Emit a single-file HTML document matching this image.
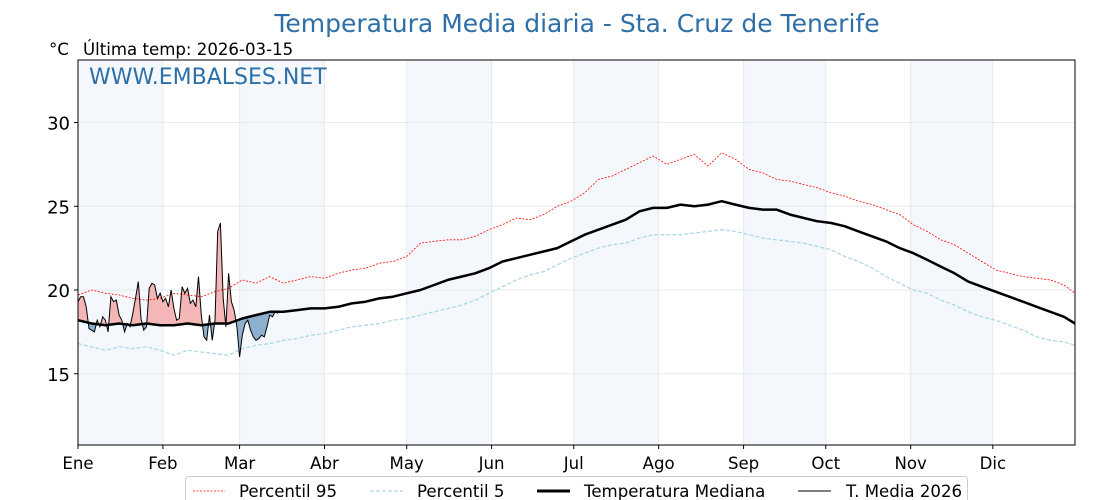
<!DOCTYPE html>
<html><head><meta charset="utf-8"><style>
html,body{margin:0;padding:0;background:#fff;}
svg{display:block;font-family:"DejaVu Sans","Liberation Sans",sans-serif;}
</style></head><body>
<svg id="chart" width="1120" height="500" viewBox="0 0 1120 500" xmlns="http://www.w3.org/2000/svg">
<defs>
<clipPath id="plotclip"><rect x="78" y="60" width="997" height="385"/></clipPath>
<clipPath id="aboveclip"><path id="abovePath" d=""/></clipPath>
<clipPath id="belowclip"><path id="belowPath" d=""/></clipPath>
</defs>
<g id="bands"></g>
<g id="grid"></g>
<g id="series" clip-path="url(#plotclip)"></g>
<rect x="78" y="60" width="997" height="385" fill="none" stroke="#000" stroke-width="1"/>
<g id="axes"></g>
<text x="577" y="32" text-anchor="middle" font-size="25" fill="#2e6fa7">Temperatura Media diaria - Sta. Cruz de Tenerife</text>
<text x="49" y="55" font-size="16.6" fill="#000">°C</text>
<text x="83" y="55" font-size="16.6" fill="#000">Última temp: 2026-03-15</text>
<text x="89" y="84" font-size="22" fill="#2e6fa7">WWW.EMBALSES.NET</text>
<g>
<rect x="185.5" y="476.5" width="782" height="30" rx="3" fill="#fff" stroke="#ccc"/>
<line x1="193" y1="491" x2="225" y2="491" stroke="red" stroke-width="0.8" stroke-dasharray="2,1.5"/>
<text x="239" y="497" font-size="16.6">Percentil 95</text>
<line x1="370" y1="491" x2="403" y2="491" stroke="#add8e6" stroke-width="1.2" stroke-dasharray="4,2"/>
<text x="417" y="497" font-size="16.6">Percentil 5</text>
<line x1="537" y1="491" x2="570" y2="491" stroke="#000" stroke-width="3"/>
<text x="584" y="497" font-size="16.6">Temperatura Mediana</text>
<line x1="798" y1="491" x2="831" y2="491" stroke="#000" stroke-width="1"/>
<text x="846" y="497" font-size="16.6">T. Media 2026</text>
</g>
</svg>
<script>
const monthLabels=["Ene","Feb","Mar","Abr","May","Jun","Jul","Ago","Sep","Oct","Nov","Dic"];
const monthStarts=[0,31,59,90,120,151,181,212,243,273,304,334,365];
const yTicks=[15,20,25,30];
const stepDays=5;
const median=[18.2,18.0,17.9,18.0,17.9,18.0,17.9,17.9,18.0,17.9,18.0,18.0,18.3,18.5,18.7,18.7,18.8,18.9,18.9,19.0,19.2,19.3,19.5,19.6,19.8,20.0,20.3,20.6,20.8,21.0,21.3,21.7,21.9,22.1,22.3,22.5,22.9,23.3,23.6,23.9,24.2,24.7,24.9,24.9,25.1,25.0,25.1,25.3,25.1,24.9,24.8,24.8,24.5,24.3,24.1,24.0,23.8,23.5,23.2,22.9,22.5,22.2,21.8,21.4,21.0,20.5,20.2,19.9,19.6,19.3,19.0,18.7,18.4,18.0];
const p95=[19.7,20.0,19.8,19.7,19.5,19.4,19.5,19.8,19.7,19.6,19.9,20.1,20.6,20.4,20.8,20.4,20.6,20.8,20.7,21.0,21.2,21.3,21.6,21.7,22.0,22.8,22.9,23.0,23.0,23.2,23.6,23.9,24.3,24.2,24.5,25.0,25.3,25.8,26.6,26.8,27.2,27.6,28.0,27.5,27.8,28.1,27.4,28.2,27.8,27.2,27.0,26.6,26.5,26.3,26.1,25.8,25.6,25.3,25.1,24.8,24.5,23.9,23.5,23.0,22.7,22.2,21.7,21.2,21.0,20.8,20.7,20.6,20.3,19.8];
const p5=[16.8,16.6,16.4,16.6,16.5,16.6,16.4,16.1,16.4,16.3,16.2,16.1,16.5,16.7,16.8,17.0,17.1,17.3,17.4,17.6,17.8,17.9,18.0,18.2,18.3,18.5,18.7,18.9,19.1,19.4,19.8,20.2,20.6,20.9,21.1,21.5,21.9,22.2,22.5,22.7,22.8,23.1,23.3,23.3,23.3,23.4,23.5,23.6,23.5,23.3,23.1,23.0,22.9,22.8,22.6,22.4,22.0,21.7,21.3,20.8,20.4,20.0,19.8,19.4,19.1,18.7,18.4,18.2,17.9,17.6,17.2,17.0,16.9,16.7];
const t2026=[19.3,19.6,19.6,19.0,17.7,17.6,17.5,18.2,17.8,18.4,18.2,17.5,19.6,19.3,19.4,18.5,18.2,17.5,18.0,17.8,18.6,19.5,20.5,18.3,17.6,17.8,20.1,20.4,20.3,19.5,19.8,19.3,19.5,19.0,20.0,18.9,18.2,18.3,20.2,19.8,20.1,19.2,19.4,19.0,20.8,18.5,17.2,17.0,18.5,17.0,18.2,23.5,24.0,19.5,17.8,21.0,19.3,18.8,17.8,16.0,17.3,18.0,18.2,17.6,17.2,17.0,17.1,17.3,17.2,17.8,18.5,18.4,18.7,18.6];

const X0=78,X1=1075,Y0=60,Y1=445,XSPAN=364;
function xs(d){return X0+d*(X1-X0)/XSPAN;}
function ys(t){return 290-(t-20)*16.75;}
const NS="http://www.w3.org/2000/svg";
function mk(tag,attrs,parent){const e=document.createElementNS(NS,tag);for(const k in attrs)e.setAttribute(k,attrs[k]);parent.appendChild(e);return e;}
const bandsG=document.getElementById('bands'),gridG=document.getElementById('grid'),seriesG=document.getElementById('series'),axesG=document.getElementById('axes');
for(let m=0;m<12;m+=2){
  const r=mk('rect',{x:xs(monthStarts[m]),y:Y0,width:xs(Math.min(monthStarts[m+1],XSPAN))-xs(monthStarts[m]),height:Y1-Y0,fill:'#f4f8fc'},bandsG);
  
  
}
monthLabels.forEach((lab,i)=>{
  const xx=xs(monthStarts[i]);
  const gl=mk('line',{x1:xx,x2:xx,y1:Y0,y2:Y1,stroke:'#e6e9ee','stroke-width':1},gridG);
  
  
  mk('line',{x1:xx,x2:xx,y1:Y1,y2:Y1+4,stroke:'#000'},axesG);
  const t=mk('text',{x:xx,y:469,'text-anchor':'middle','font-size':16.6},axesG);
  t.textContent=lab;
  
  
});
yTicks.forEach(v=>{
  const yy=ys(v);
  const gl=mk('line',{x1:X0,x2:X1,y1:yy,y2:yy,stroke:'#e6e9ee','stroke-width':1},gridG);
  
  
  mk('line',{x1:X0-4,x2:X0,y1:yy,y2:yy,stroke:'#000'},axesG);
  const t=mk('text',{x:X0-8,y:yy+7,'text-anchor':'end','font-size':18},axesG);
  t.textContent=v;
  
  
});
function stepPts(arr){return arr.map((v,i)=>xs(Math.min(i*stepDays,XSPAN)).toFixed(1)+','+ys(v).toFixed(1)).join(' ');}
function medAt(d){const i=Math.floor(d/stepDays),f=d/stepDays-i;const a=median[i],b=median[Math.min(i+1,median.length-1)];return a+(b-a)*f;}
const nDays=t2026.length;
const upperPts=[],lowerPts=[],medLine=[];
for(let d=0;d<nDays;d++){upperPts.push(xs(d).toFixed(1)+','+ys(t2026[d]).toFixed(1));}
for(let d=nDays-1;d>=0;d--){lowerPts.push(xs(d).toFixed(1)+','+ys(medAt(d)).toFixed(1));}
for(let d=0;d<nDays;d++)medLine.push(xs(d).toFixed(1)+','+ys(medAt(d)).toFixed(1));
document.getElementById('abovePath').setAttribute('d','M'+medLine.join(' L')+' L'+xs(nDays-1)+','+Y0+' L'+xs(0)+','+Y0+'Z');
document.getElementById('belowPath').setAttribute('d','M'+medLine.join(' L')+' L'+xs(nDays-1)+','+Y1+' L'+xs(0)+','+Y1+'Z');
const fillPts=upperPts.concat(lowerPts).join(' ');
const fa=mk('polygon',{points:fillPts,fill:'#f4b6b6','clip-path':'url(#aboveclip)'},seriesG);


const fb=mk('polygon',{points:fillPts,fill:'#8db0d0','clip-path':'url(#belowclip)'},seriesG);


const l95=mk('polyline',{points:stepPts(p95),fill:'none',stroke:'red','stroke-width':0.8,'stroke-dasharray':'2,1.5'},seriesG);


const l5=mk('polyline',{points:stepPts(p5),fill:'none',stroke:'#add8e6','stroke-width':1.3,'stroke-dasharray':'4,2'},seriesG);


const lm=mk('polyline',{points:stepPts(median),fill:'none',stroke:'#000','stroke-width':2.5,'stroke-linejoin':'round'},seriesG);


const lt=mk('polyline',{points:upperPts.join(' '),fill:'none',stroke:'#000','stroke-width':1},seriesG);


</script>
</body></html>
